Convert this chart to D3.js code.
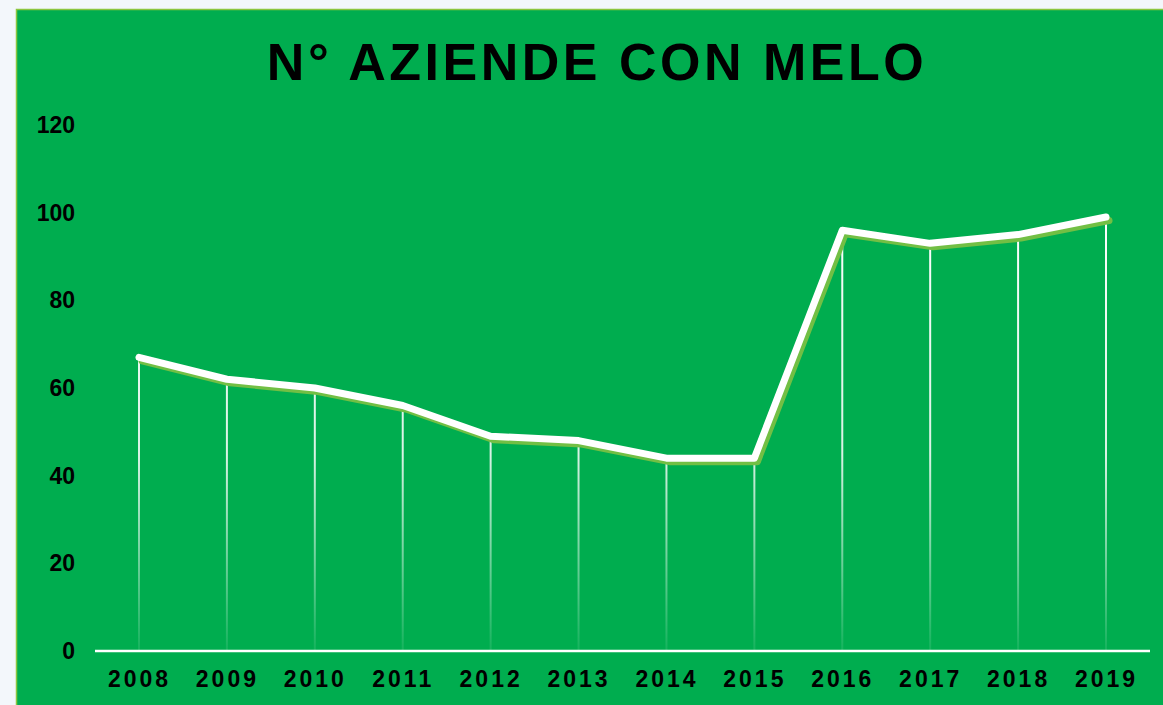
<!DOCTYPE html>
<html>
<head>
<meta charset="utf-8">
<script src="https://cdn.jsdelivr.net/npm/d3@7"></script>
<style>
  html, body { margin: 0; padding: 0; background: #f3f7fb; }
  svg { display: block; }
</style>
</head>
<body>
<svg id="chart" width="1163" height="705"></svg>
<script>
const years = ["2008", "2009", "2010", "2011", "2012", "2013", "2014", "2015", "2016", "2017", "2018", "2019"];
const aziende = [67, 62, 60, 56, 49, 48, 44, 44, 96, 93, 95, 99];
const yTicks = [0, 20, 40, 60, 80, 100, 120];
const titleText = "N° AZIENDE CON MELO";

const svg = d3.select("#chart");

// green panel
svg.append("rect")
    .attr("x", 16.5).attr("y", 9.5)
    .attr("width", 1160).attr("height", 710)
    .attr("fill", "#00ad4f")
    .attr("stroke", "#8cc63f")
    .attr("stroke-width", 1.5);

const x = d3.scalePoint().domain(years).range([139, 1106]);
const y = d3.scaleLinear().domain([0, 120]).range([651, 125]);

// gradient for drop lines (fade toward the bottom)
const defs = svg.append("defs");
const grad = defs.append("linearGradient")
    .attr("id", "dropFade")
    .attr("gradientUnits", "userSpaceOnUse")
    .attr("x1", 0).attr("x2", 0)
    .attr("y1", y(100)).attr("y2", y(0));
grad.append("stop").attr("offset", "0%").attr("stop-color", "#fff").attr("stop-opacity", 1);
grad.append("stop").attr("offset", "55%").attr("stop-color", "#fff").attr("stop-opacity", 0.85);
grad.append("stop").attr("offset", "100%").attr("stop-color", "#fff").attr("stop-opacity", 0.08);

// title
svg.append("text")
    .attr("x", 597).attr("y", 80)
    .attr("text-anchor", "middle")
    .attr("font-family", "Liberation Sans, Arial, sans-serif")
    .attr("font-weight", "bold")
    .attr("font-size", 52)
    .attr("letter-spacing", 3.5)
    .attr("fill", "#000")
    .text(titleText);

// drop lines
svg.append("g").selectAll("line")
    .data(aziende)
    .join("line")
    .attr("x1", (d, i) => x(years[i]))
    .attr("x2", (d, i) => x(years[i]))
    .attr("y1", d => y(d))
    .attr("y2", y(0))
    .attr("stroke", "url(#dropFade)")
    .attr("stroke-width", 2);

// x axis line
svg.append("line")
    .attr("x1", 95).attr("x2", 1150)
    .attr("y1", y(0)).attr("y2", y(0))
    .attr("stroke", "#fff")
    .attr("stroke-width", 2.5);

// y axis labels
const yAxis = d3.axisLeft(y).tickValues(yTicks).tickSize(0).tickPadding(0);
const gy = svg.append("g").attr("transform", "translate(75,0)").call(yAxis);
gy.select(".domain").remove();
gy.selectAll("text")
    .attr("font-family", "Liberation Sans, Arial, sans-serif")
    .attr("font-weight", "bold")
    .attr("font-size", 23)
    .attr("fill", "#000");

// x axis labels
const xAxis = d3.axisBottom(x).tickSize(0).tickPadding(0);
const gx = svg.append("g").attr("transform", "translate(0,671)").call(xAxis);
gx.select(".domain").remove();
gx.selectAll("text")
    .attr("font-family", "Liberation Sans, Arial, sans-serif")
    .attr("font-weight", "bold")
    .attr("font-size", 23)
    .attr("letter-spacing", 3)
    .attr("fill", "#000");

const line = d3.line()
    .x((d, i) => x(years[i]))
    .y(d => y(d));

// shadow line
svg.append("path")
    .datum(aziende)
    .attr("transform", "translate(3,3.5)")
    .attr("d", line)
    .attr("fill", "none")
    .attr("stroke", "#72bf44")
    .attr("stroke-width", 7)
    .attr("stroke-linecap", "round")
    .attr("stroke-linejoin", "round");

// main line
svg.append("path")
    .datum(aziende)
    .attr("d", line)
    .attr("fill", "none")
    .attr("stroke", "#fff")
    .attr("stroke-width", 7)
    .attr("stroke-linecap", "round")
    .attr("stroke-linejoin", "round");
</script>
</body>
</html>
